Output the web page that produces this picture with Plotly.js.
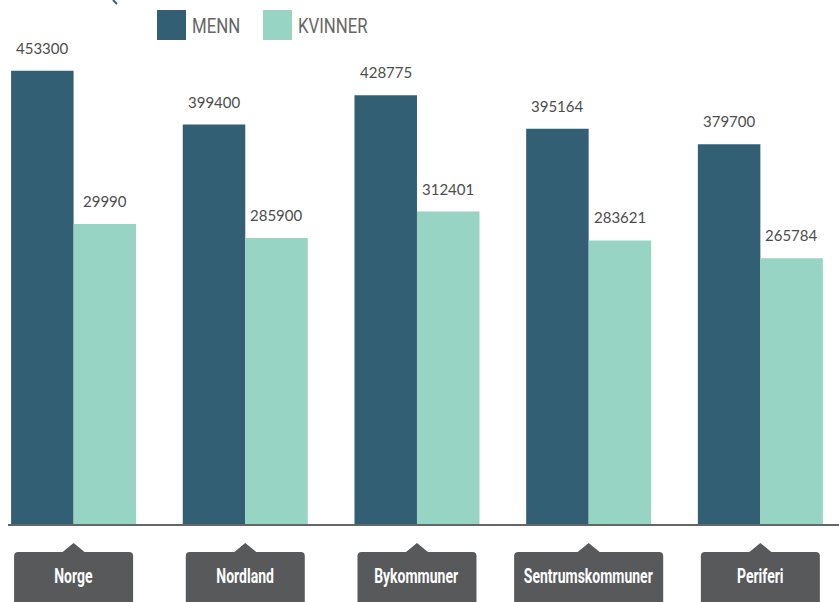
<!DOCTYPE html>
<html>
<head>
<meta charset="utf-8">
<script src="https://cdn.plot.ly/plotly-3.0.1.min.js"></script>
<style>html,body{margin:0;padding:0;background:#fff}#chart{width:839px;height:602px}</style>
</head>
<body>
<div id="chart"></div>
<script>
const categories = ["Norge", "Nordland", "Bykommuner", "Sentrumskommuner", "Periferi"];
const menn = [453300, 399400, 428775, 395164, 379700];
const kvinner = [299900, 285900, 312401, 283621, 265784];
const mennLabels = ["453300", "399400", "428775", "395164", "379700"];
const kvinnerLabels = ["29990", "285900", "312401", "283621", "265784"];
const seriesNames = ["MENN", "KVINNER"];

const DARK = "#335f75", LIGHT = "#98d4c3", BOX = "#58595b";
const W = 839, H = 602, ML = 8, MR = 0, MT = 0, MB = 78;
const PW = W - ML - MR, PH = H - MT - MB;
const px2x = p => (p - ML) / PW;
const py2y = p => (MT + PH - p) / PH;
const CAT_FONT = "Roboto";
const CAT_SIZE = 20, CAT_SCALE = 0.70;
const LEG_SCALE = 0.80;

const ctx = document.createElement("canvas").getContext("2d");
ctx.font = "bold " + CAT_SIZE + "px Roboto";

const idx = categories.map((_, i) => i);
const traces = [
  {type: "bar", name: seriesNames[0], x: idx, y: menn, marker: {color: DARK}, hoverinfo: "none"},
  {type: "bar", name: seriesNames[1], x: idx, y: kvinner, marker: {color: LIGHT}, hoverinfo: "none"}
];

const shapes = [];
const annotations = [];
const condensed = []; // [annotation index, scale, origin]
const half = 31.25;
const valFont = {family: "Lato, sans-serif", size: 15, color: "#4d4d4d"};
categories.forEach((c, i) => {
  annotations.push({x: i, y: menn[i], xref: "x", yref: "y", text: mennLabels[i], showarrow: false,
    xshift: -half, yshift: 12, yanchor: "bottom", font: valFont});
  annotations.push({x: i, y: kvinner[i], xref: "x", yref: "y", text: kvinnerLabels[i], showarrow: false,
    xshift: half, yshift: 12, yanchor: "bottom", font: valFont});
  const tw = ctx.measureText(c).width * CAT_SCALE;
  const hw = Math.max(119, tw + 20) / 2;
  const top = -28, bot = -100, r = 4, apex = -19, tri = 11;
  const path = `M ${-hw + r} ${top} L ${-tri} ${top} L 0 ${apex} L ${tri} ${top} L ${hw - r} ${top} Q ${hw} ${top} ${hw} ${top - r} L ${hw} ${bot} L ${-hw} ${bot} L ${-hw} ${top - r} Q ${-hw} ${top} ${-hw + r} ${top} Z`;
  shapes.push({type: "path", xref: "x", yref: "paper", xsizemode: "pixel", ysizemode: "pixel", xanchor: i, yanchor: 0,
    path: path, fillcolor: BOX, line: {width: 0}, layer: "above"});
  condensed.push([annotations.length, CAT_SCALE, "center"]);
  annotations.push({x: i, y: 0, xref: "x", yref: "paper", yshift: -52, yanchor: "middle", text: c, showarrow: false,
    font: {family: CAT_FONT, size: CAT_SIZE, color: "#fff", weight: "bold"}});
});

// manual legend
const leg = [{x0: 157, label: seriesNames[0], color: DARK}, {x0: 263, label: seriesNames[1], color: LIGHT}];
leg.forEach(l => {
  shapes.push({type: "rect", xref: "paper", yref: "paper", x0: px2x(l.x0), x1: px2x(l.x0 + 29), y0: py2y(40), y1: py2y(10),
    fillcolor: l.color, line: {width: 0}});
  condensed.push([annotations.length, LEG_SCALE, "left center"]);
  annotations.push({xref: "paper", yref: "paper", x: px2x(l.x0 + 33), y: py2y(26), xanchor: "left", yanchor: "middle",
    text: l.label, showarrow: false, font: {family: "Roboto", size: 21, color: "#666"}});
});
shapes.push({type: "line", xref: "paper", yref: "paper", x0: px2x(113), x1: px2x(117), y0: py2y(0), y1: py2y(4),
  line: {color: DARK, width: 2}});

const layout = {
  width: W, height: H,
  margin: {l: ML, r: MR, t: MT, b: MB, pad: 0},
  paper_bgcolor: "#fff", plot_bgcolor: "#fff",
  barmode: "group", bargap: 0.272, bargroupgap: 0,
  showlegend: false,
  xaxis: {type: "linear", range: [-0.382, 4.458], showticklabels: false, ticks: "", showgrid: false, zeroline: false,
    showline: true, linecolor: "#666", linewidth: 2},
  yaxis: {range: [0, 524000], showticklabels: false, ticks: "", showgrid: false, zeroline: false, showline: false},
  shapes: shapes,
  annotations: annotations
};
Plotly.newPlot("chart", traces, layout, {staticPlot: true, displayModeBar: false}).then(gd => {
  condensed.forEach(([k, s, origin]) => {
    const t = gd.querySelector('g.annotation[data-index="' + k + '"] text.annotation-text');
    if (t) {
      t.style.transformBox = "fill-box";
      t.style.transformOrigin = origin;
      t.style.transform = "scaleX(" + s + ")";
    }
  });
});
</script>
</body>
</html>
